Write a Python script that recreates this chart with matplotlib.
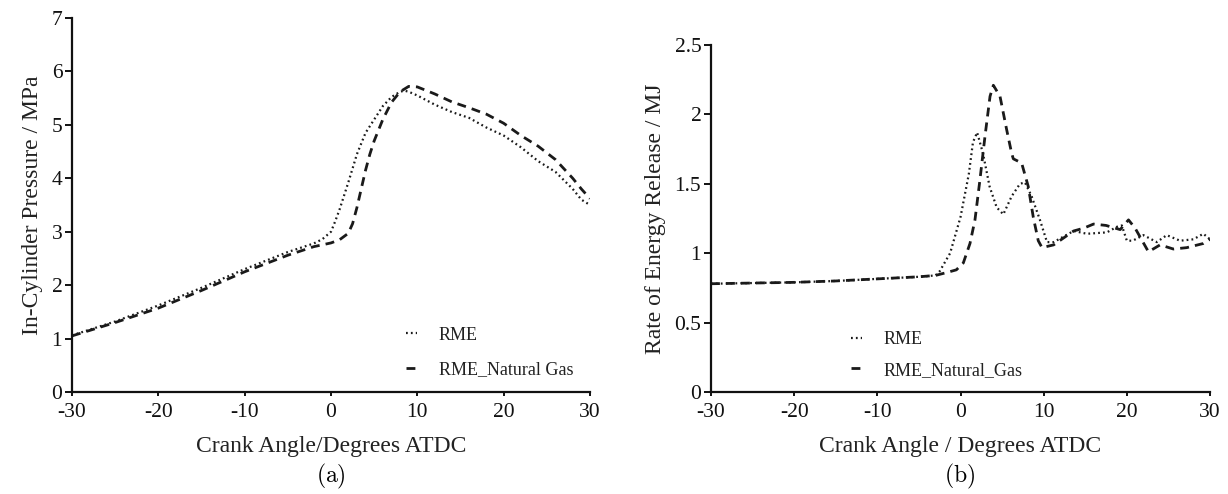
import matplotlib
matplotlib.use("Agg")
import matplotlib.pyplot as plt

# ---- data: panel (a) in-cylinder pressure ----
p_rme_x = [-30, -25, -20, -15, -10, -5, -2, -1, 0, 0.5, 1, 2, 3, 4, 5, 6, 7, 8, 8.5, 9, 10,
           12, 14, 16, 18, 20, 22, 24, 26, 28, 29, 30]
p_rme_y = [1.06, 1.32, 1.62, 1.95, 2.3, 2.62, 2.78, 2.86, 3.0, 3.2, 3.42, 3.92, 4.45, 4.85, 5.1,
           5.35, 5.52, 5.62, 5.64, 5.62, 5.55, 5.38, 5.24, 5.13, 4.95, 4.8, 4.58, 4.32, 4.12,
           3.8, 3.6, 3.5]
p_ng_x = [-30, -25, -20, -15, -10, -5, -2, 0, 1, 2, 2.5, 3, 3.5, 4, 4.5, 5, 6, 7, 8, 9, 10,
          12, 14, 16, 18, 20, 22, 24, 26, 28, 29, 30]
p_ng_y = [1.05, 1.3, 1.57, 1.9, 2.25, 2.56, 2.72, 2.79, 2.85, 2.97, 3.15, 3.45, 3.8, 4.15, 4.45,
          4.7, 5.1, 5.42, 5.62, 5.72, 5.71, 5.58, 5.43, 5.32, 5.2, 5.03, 4.8, 4.6, 4.35, 4.0,
          3.8, 3.62]

# ---- data: panel (b) rate of energy release ----
r_rme_x = [-30, -25, -20, -15, -10, -5, -3, -2.5, -1.25, 0, 1, 1.5, 2, 2.7, 3.5, 4.35, 5.15,
           6.15, 7.15, 7.75, 8.55, 9.55, 10.4, 11.2, 12.4, 13.6, 15.2, 17.6, 18.8, 19.4, 20,
           20.7, 22, 23.6, 24.8, 26.4, 28, 29.2, 30]
r_rme_y = [0.78, 0.785, 0.79, 0.80, 0.815, 0.83, 0.84, 0.87, 1.0, 1.26, 1.57, 1.8, 1.87, 1.72,
           1.48, 1.33, 1.28, 1.41, 1.5, 1.51, 1.41, 1.24, 1.08, 1.08, 1.12, 1.16, 1.14, 1.15,
           1.19, 1.2, 1.09, 1.09, 1.13, 1.08, 1.13, 1.09, 1.1, 1.14, 1.1]
r_ng_x = [-30, -25, -20, -15, -10, -5, -3, -1.7, -0.5, 0.34, 1.14, 1.74, 2.34, 2.94, 3.55,
          3.95, 4.75, 5.55, 6.15, 6.35, 7.35, 8.15, 8.75, 9.35, 9.8, 11.2, 12.4, 13.6, 14.8,
          16, 17.5, 19.2, 20.2, 21, 22.6, 24, 25.6, 27.2, 29.2, 30]
r_ng_y = [0.78, 0.785, 0.79, 0.80, 0.815, 0.83, 0.84, 0.86, 0.88, 0.93, 1.07, 1.24, 1.53, 1.84,
          2.13, 2.21, 2.13, 1.89, 1.72, 1.68, 1.65, 1.48, 1.26, 1.09, 1.04, 1.06, 1.11, 1.16,
          1.18, 1.21, 1.2, 1.17, 1.24, 1.18, 1.01, 1.06, 1.03, 1.04, 1.07, 1.1]

x_ticks = [-30, -20, -10, 0, 10, 20, 30]
a_yticks = [0, 1, 2, 3, 4, 5, 6, 7]
b_yticks = [0, 0.5, 1, 1.5, 2, 2.5]
b_yticklabels = ["0", "0.5", "1", "1.5", "2", "2.5"]

plt.rcParams['font.family'] = ['Liberation Serif', 'DejaVu Serif']
plt.rcParams['mathtext.fontset'] = 'cm'

fig = plt.figure(figsize=(12.28, 4.94), dpi=100)
ax1 = fig.add_axes([72/1228, 1-392/494, (590-72)/1228, (392-18)/494])
ax2 = fig.add_axes([711/1228, 1-392/494, (1210-711)/1228, (392-45)/494])

dot_style = dict(color='#1a1a1a', lw=1.6, linestyle=(0, (0.8, 1.4)))
dash_style = dict(color='#1a1a1a', lw=2.0, linestyle=(0, (3.2, 2.2)))

ax1.plot(p_rme_x, p_rme_y, label='RME', **dot_style)
ax1.plot(p_ng_x, p_ng_y, label='RME_Natural Gas', **dash_style)
ax2.plot(r_rme_x, r_rme_y, label='RME', **dot_style)
ax2.plot(r_ng_x, r_ng_y, label='RME_Natural_Gas', **dash_style)

for ax in (ax1, ax2):
    ax.set_xlim(-30, 30)
    ax.set_xticks(x_ticks)
    ax.set_xticklabels([str(t) for t in x_ticks])
    for s in ('top', 'right'):
        ax.spines[s].set_visible(False)
    for s in ('left', 'bottom'):
        ax.spines[s].set_linewidth(1.6)
        ax.spines[s].set_color('#111111')
    ax.tick_params(axis='x', direction='out', length=3, width=1.4, labelsize=15.5, pad=5,
                   colors='#111111')
    ax.tick_params(axis='y', direction='out', length=5, width=1.4, labelsize=15.5, pad=2,
                   colors='#111111')

ax1.set_ylim(0, 7)
ax1.set_yticks(a_yticks)
ax1.set_yticklabels([str(t) for t in a_yticks])
ax2.set_ylim(0, 2.5)
ax2.set_yticks(b_yticks)
ax2.set_yticklabels(b_yticklabels)

lab_fs = 17
ax1.set_ylabel('In-Cylinder Pressure / MPa', fontsize=lab_fs, color='#222222', labelpad=6)
ax1.set_xlabel('Crank Angle/Degrees ATDC', fontsize=lab_fs, color='#222222', labelpad=10)
ax2.set_ylabel('Rate of Energy Release / MJ', fontsize=lab_fs, color='#222222', labelpad=6)
ax2.set_xlabel('Crank Angle / Degrees ATDC', fontsize=lab_fs, color='#222222', labelpad=10)

leg1 = ax1.legend(loc='upper left', bbox_to_anchor=(0.645, 0.175), frameon=False,
                  handlelength=0.6, handletextpad=1.2, labelspacing=1.0, fontsize=13,
                  borderaxespad=0, borderpad=0)
leg2 = ax2.legend(loc='upper left', bbox_to_anchor=(0.28, 0.175), frameon=False,
                  handlelength=0.6, handletextpad=1.2, labelspacing=0.75, fontsize=13,
                  borderaxespad=0, borderpad=0)
for leg in (leg1, leg2):
    for t in leg.get_texts():
        t.set_color('#222222')

fig.text(331/1228, 1-476/494, r'$\mathrm{(a)}$', ha='center', va='center', fontsize=17)
fig.text(960/1228, 1-476/494, r'$\mathrm{(b)}$', ha='center', va='center', fontsize=17)

fig.savefig('out.png', dpi=100)
